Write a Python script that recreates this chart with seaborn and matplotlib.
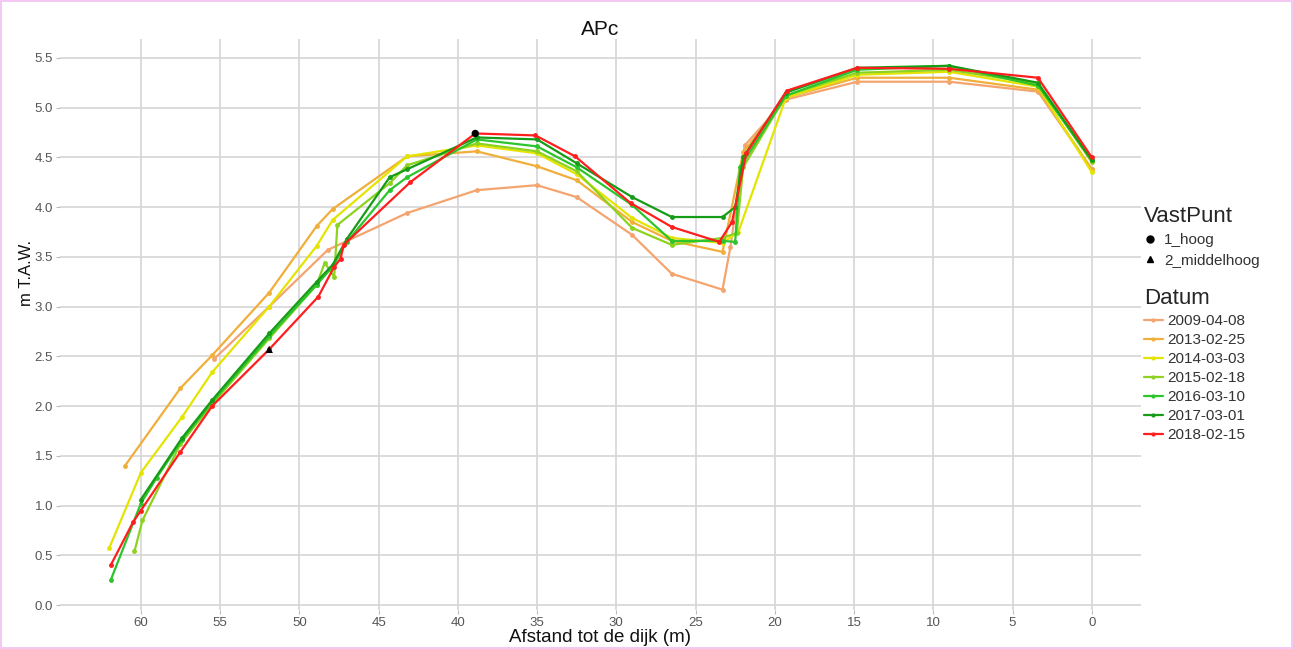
import matplotlib
matplotlib.use("Agg")
import matplotlib.pyplot as plt
from matplotlib.lines import Line2D
import seaborn as sns
import pandas as pd

# ---- data ----
dates = ["2009-04-08", "2013-02-25", "2014-03-03", "2015-02-18",
         "2016-03-10", "2017-03-01", "2018-02-15"]
colors = ["#F4A46E", "#F0AE3A", "#E4E400", "#8CD21E", "#2CC52C", "#169C16", "#FF1E1E"]

x_2009 = [55.4, 51.9, 48.2, 43.2, 38.8, 35.0, 32.5, 29.0, 26.5, 23.3, 22.8, 21.9, 19.3, 14.8, 9.0, 3.4, 0.0]
y_2009 = [2.47, 3.00, 3.57, 3.94, 4.17, 4.22, 4.10, 3.72, 3.33, 3.17, 3.60, 4.62, 5.08, 5.26, 5.26, 5.16, 4.38]

x_2013 = [61.0, 57.5, 55.5, 51.9, 48.9, 47.9, 43.2, 38.8, 35.0, 32.5, 29.0, 26.5, 23.3, 22.0, 19.3, 14.8, 9.0, 3.4, 0.0]
y_2013 = [1.40, 2.18, 2.51, 3.14, 3.81, 3.98, 4.51, 4.56, 4.41, 4.27, 3.85, 3.66, 3.55, 4.55, 5.10, 5.30, 5.30, 5.18, 4.38]

x_2014 = [62.0, 60.0, 57.4, 55.5, 51.9, 48.9, 47.9, 43.2, 38.8, 35.0, 32.5, 29.0, 26.5, 23.3, 22.3, 19.3, 14.8, 9.0, 3.4, 0.0]
y_2014 = [0.57, 1.33, 1.89, 2.34, 3.00, 3.61, 3.87, 4.51, 4.62, 4.54, 4.33, 3.89, 3.69, 3.64, 3.75, 5.10, 5.33, 5.36, 5.21, 4.35]

x_2015 = [60.4, 59.9, 57.5, 55.5, 51.9, 48.9, 48.4, 47.8, 47.6, 44.3, 43.2, 38.8, 35.0, 32.5, 29.0, 26.5, 23.3, 22.4, 22.0, 19.3, 14.8, 9.0, 3.4, 0.0]
y_2015 = [0.54, 0.85, 1.62, 2.02, 2.68, 3.22, 3.44, 3.30, 3.82, 4.24, 4.42, 4.64, 4.56, 4.36, 3.79, 3.62, 3.69, 3.74, 4.40, 5.12, 5.35, 5.38, 5.24, 4.45]

x_2016 = [61.9, 60.0, 59.0, 57.4, 55.5, 51.9, 48.9, 47.9, 47.0, 44.3, 43.2, 38.8, 35.0, 32.5, 29.0, 26.5, 23.3, 22.5, 22.2, 19.3, 14.8, 9.0, 3.4, 0.0]
y_2016 = [0.25, 1.02, 1.28, 1.66, 2.04, 2.70, 3.22, 3.40, 3.65, 4.17, 4.30, 4.68, 4.61, 4.40, 4.02, 3.66, 3.66, 3.65, 4.40, 5.12, 5.38, 5.42, 5.22, 4.47]

x_2017 = [60.0, 57.4, 55.5, 51.9, 48.9, 47.9, 47.0, 44.3, 43.2, 38.8, 35.0, 32.5, 29.0, 26.5, 23.3, 22.5, 22.0, 19.3, 14.8, 9.0, 3.4, 0.0]
y_2017 = [1.06, 1.68, 2.06, 2.73, 3.25, 3.42, 3.68, 4.30, 4.38, 4.70, 4.68, 4.44, 4.10, 3.90, 3.90, 4.00, 4.50, 5.15, 5.40, 5.42, 5.25, 4.47]

x_2018 = [61.9, 60.5, 60.0, 57.5, 55.5, 51.9, 48.8, 47.8, 47.4, 47.2, 43.0, 38.9, 35.1, 32.6, 29.1, 26.5, 23.5, 22.7, 21.8, 19.25, 14.8, 9.0, 3.4, 0.0]
y_2018 = [0.40, 0.83, 0.95, 1.54, 2.00, 2.57, 3.10, 3.40, 3.48, 3.62, 4.25, 4.74, 4.72, 4.51, 4.04, 3.80, 3.65, 3.85, 4.54, 5.17, 5.40, 5.39, 5.30, 4.50]

vp_names = ["1_hoog", "2_middelhoog"]
vp_x = [38.9, 51.9]
vp_y = [4.74, 2.57]

xs = [x_2009, x_2013, x_2014, x_2015, x_2016, x_2017, x_2018]
ys = [y_2009, y_2013, y_2014, y_2015, y_2016, y_2017, y_2018]

rows = []
for d, xx, yy in zip(dates, xs, ys):
    for i, (a, b) in enumerate(zip(xx, yy)):
        rows.append({"Datum": d, "x": a, "y": b, "order": i})
df = pd.DataFrame(rows)
vp = pd.DataFrame({"VastPunt": vp_names, "x": vp_x, "y": vp_y})

# ---- style ----
sns.set_theme(style="whitegrid")
plt.rcParams["font.family"] = ["Liberation Sans", "DejaVu Sans"]

fig = plt.figure(figsize=(12.93, 6.49), dpi=100)
fig.patch.set_edgecolor("#f3c8f3")
fig.patch.set_linewidth(1.5)
ax = fig.add_axes([0.0464, 0.0601, 0.8360, 0.8799])

pal = dict(zip(dates, colors))
sns.lineplot(data=df, x="x", y="y", hue="Datum", palette=pal, sort=False,
             estimator=None, units="Datum", marker="o", markersize=3.5,
             markeredgewidth=0, linewidth=1.6, legend=False, ax=ax)
sns.scatterplot(data=vp, x="x", y="y", style="VastPunt",
                markers={"1_hoog": "o", "2_middelhoog": "^"},
                color="black", s=28, edgecolor="black", linewidth=0,
                legend=False, ax=ax, zorder=5)

ax.set_xlim(65.1, -3.1)
ax.set_ylim(-0.05, 5.69)
ax.set_xticks(list(range(60, -1, -5)))
ax.set_yticks([i * 0.5 for i in range(12)])
ax.set_yticklabels([f"{i*0.5:.1f}" for i in range(12)])
ax.grid(True, color="#d6d6d6", linewidth=1.2)
for s in ax.spines.values():
    s.set_visible(False)
ax.tick_params(axis="both", which="both", length=3, width=0.8, color="#bbbbbb",
               labelsize=9.5, labelcolor="#555555", pad=2, bottom=True, left=True)
ax.set_xlabel("Afstand tot de dijk (m)", fontsize=13.5, color="#111111", labelpad=0)
ax.set_ylabel("m T.A.W.", fontsize=12, color="#111111", labelpad=2)
ax.yaxis.set_label_coords(-0.0245, 0.59)
ax.set_title("APc", fontsize=15, color="#111111", pad=3)

# ---- legends ----
vp_handles = [Line2D([], [], marker="o", linestyle="none", color="black", markersize=5),
              Line2D([], [], marker="^", linestyle="none", color="black", markersize=5)]
leg1 = fig.legend(vp_handles, vp_names, title="VastPunt", loc="upper left",
                  bbox_to_anchor=(0.885, 0.683), frameon=False, fontsize=11,
                  title_fontsize=16, handlelength=0.8, handletextpad=0.5,
                  labelspacing=0.42, borderaxespad=0, borderpad=0)
leg1._legend_box.align = "left"

d_handles = [Line2D([], [], color=c, marker="o", markersize=3, markeredgewidth=0,
                    linewidth=1.6) for c in colors]
leg2 = fig.legend(d_handles, dates, title="Datum", loc="upper left",
                  bbox_to_anchor=(0.885, 0.556), frameon=False, fontsize=11,
                  title_fontsize=16, handlelength=1.2, handletextpad=0.3,
                  labelspacing=0.33, borderaxespad=0, borderpad=0)
leg2._legend_box.align = "left"
for lg in (leg1, leg2):
    for t in lg.get_texts():
        t.set_color("#333333")

fig.savefig("out.png", dpi=100)
